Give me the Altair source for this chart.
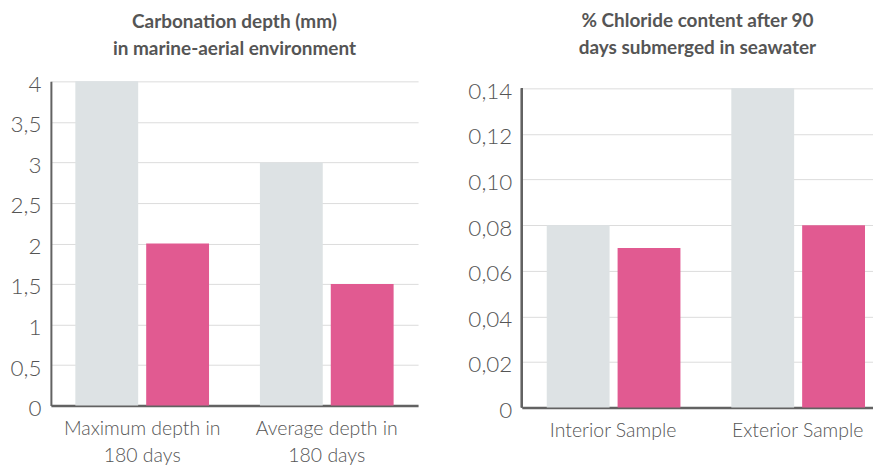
import altair as alt
import pandas as pd

# ---- data ----
series = ["Series A", "Series B"]
colors = ["#dde2e4", "#e15a91"]

left_title = ["Carbonation depth (mm)", "in marine-aerial environment"]
left_categories = ["Maximum depth in|180 days", "Average depth in|180 days"]
left_a = [4, 3]
left_b = [2, 1.5]
left_ticks = [0, 0.5, 1, 1.5, 2, 2.5, 3, 3.5, 4]

right_title = ["% Chloride content after 90", "days submerged in seawater"]
right_categories = ["Interior Sample", "Exterior Sample"]
right_a = [0.08, 0.14]
right_b = [0.07, 0.08]
right_ticks = [0, 0.02, 0.04, 0.06, 0.08, 0.10, 0.12, 0.14]

FONT = "Lato"
TXT = "#555555"
AX = "#626262"


def make_df(cats, a, b):
    rows = []
    for c, va, vb in zip(cats, a, b):
        rows.append({"cat": c, "series": series[0], "value": va})
        rows.append({"cat": c, "series": series[1], "value": vb})
    return pd.DataFrame(rows)


def panel(df, cats, title, ticks, ytop, ylabel_expr, width, height,
          p_in, p_out, align, show_domain, title_offset):
    base = alt.Chart(df, title=alt.TitleParams(
        title, font=FONT, fontSize=19, fontWeight="bold", color=TXT,
        lineHeight=27, offset=title_offset, anchor="middle"))
    bars = base.mark_bar().encode(
        x=alt.X("cat:N", sort=cats, title=None,
                scale=alt.Scale(paddingInner=p_in, paddingOuter=p_out, align=align),
                axis=alt.Axis(labelAngle=0, ticks=False, domainColor=AX, domainWidth=2.5,
                              labelFont=FONT, labelFontSize=19.5, labelColor=TXT,
                              labelFontWeight=300, labelPadding=14, labelLineHeight=27,
                              labelExpr="split(datum.label, '|')", grid=False)),
        xOffset=alt.XOffset("series:N", sort=series,
                            scale=alt.Scale(paddingInner=0.113, paddingOuter=0)),
        y=alt.Y("value:Q", title=None,
                scale=alt.Scale(domain=[0, ytop], nice=False, zero=True),
                axis=alt.Axis(values=ticks, ticks=False, domain=show_domain,
                              domainColor=AX, domainWidth=2,
                              gridColor="#dcdcdc", gridWidth=1,
                              labelFont=FONT, labelFontSize=22.5, labelColor=TXT,
                              labelFontWeight=300, labelPadding=10, labelOffset=3,
                              labelExpr=ylabel_expr)),
        color=alt.Color("series:N", scale=alt.Scale(domain=series, range=colors),
                        legend=None),
    )
    layers = [bars]
    if not show_domain:
        axis_line = base.mark_rule(color=AX, strokeWidth=2).encode(
            x=alt.value(0),
            y=alt.datum(0),
            y2=alt.datum(max(ticks)),
        )
        layers.append(axis_line)
    return alt.layer(*layers).properties(width=width, height=height)


left = panel(make_df(left_categories, left_a, left_b), left_categories, left_title,
             left_ticks, 4,
             "replace(toString(datum.value), '.', ',')",
             368, 325, 0.2757, 0.1324, 0.5, True, 14)

right = panel(make_df(right_categories, right_a, right_b), right_categories, right_title,
              right_ticks, 0.14 * 327 / 320,
              "datum.value == 0 ? '0' : replace(format(datum.value, '.2f'), '.', ',')",
              352, 327, 0.281, 0.0919, 0.735, False, 22)

chart = (
    alt.hconcat(left, right, spacing=49)
    .configure_view(stroke=None)
    .properties(padding={"left": 1, "top": 4, "right": 0, "bottom": 0})
)

chart.save("out.html", embed_options={"renderer": "svg", "actions": False})
